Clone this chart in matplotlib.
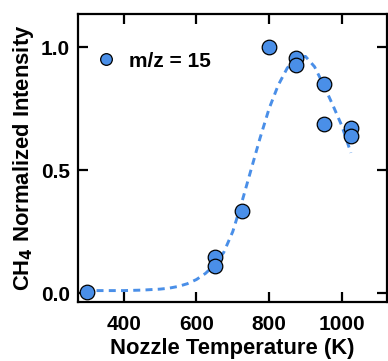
import numpy as np
import matplotlib
matplotlib.use("Agg")
import matplotlib.pyplot as plt

# measured points (m/z = 15)
temp_K = [300, 650, 650, 725, 800, 875, 875, 950, 950, 1025, 1025]
intensity = [0.005, 0.145, 0.11, 0.335, 1.0, 0.955, 0.925, 0.848, 0.688, 0.672, 0.638]

# dashed guide curve
fit_T = [325, 350, 375, 400, 425, 450, 475, 500, 525, 550, 575, 600, 625, 650,
         675, 700, 725, 750, 775, 800, 825, 850, 875, 900, 925, 950, 975, 1000, 1025]
fit_I = [0.010, 0.010, 0.010, 0.010, 0.011, 0.012, 0.014, 0.016, 0.020, 0.027,
         0.038, 0.055, 0.080, 0.115, 0.165, 0.250, 0.370, 0.500, 0.630, 0.750,
         0.845, 0.915, 0.955, 0.962, 0.920, 0.845, 0.765, 0.680, 0.570]

x_ticks = [400, 600, 800, 1000]
y_ticks = [0.0, 0.5, 1.0]

plt.rcParams['font.family'] = ['Liberation Sans', 'DejaVu Sans']
plt.rcParams['font.weight'] = 'bold'

blue = '#4a8fe8'

fig = plt.figure(figsize=(3.88, 3.61), dpi=100)
ax = fig.add_axes([0.201, 0.163, 0.797, 0.798])

ax.plot(fit_T, fit_I, linestyle=(0, (2.4, 1.8)), color=blue, linewidth=2.1)
ax.plot(temp_K, intensity, 'o', markersize=10.5, markerfacecolor=blue,
        markeredgecolor='black', markeredgewidth=0.9, label='m/z = 15')

ax.set_xlim(274, 1125)
ax.set_ylim(-0.037, 1.134)
ax.set_xticks(x_ticks)
ax.set_yticks(y_ticks)
ax.set_yticklabels(['0.0', '0.5', '1.0'])

ax.tick_params(direction='in', length=7, width=1.6, top=True, right=True,
               labelsize=15, pad=6)
ax.tick_params(axis='x', pad=9)
for sp in ax.spines.values():
    sp.set_linewidth(1.6)

ax.set_xlabel('Nozzle Temperature (K)', fontsize=15.8, fontweight='bold', labelpad=3)
ax.set_ylabel('CH$_4$ Normalized Intensity', fontsize=15.8, fontweight='bold', labelpad=3)

ax.legend(loc='upper left', frameon=False, fontsize=15, markerscale=0.8,
          handletextpad=0.3, handlelength=1.6, bbox_to_anchor=(-0.009, 0.92),
          borderaxespad=0.3)

fig.savefig('out.png', dpi=100)
